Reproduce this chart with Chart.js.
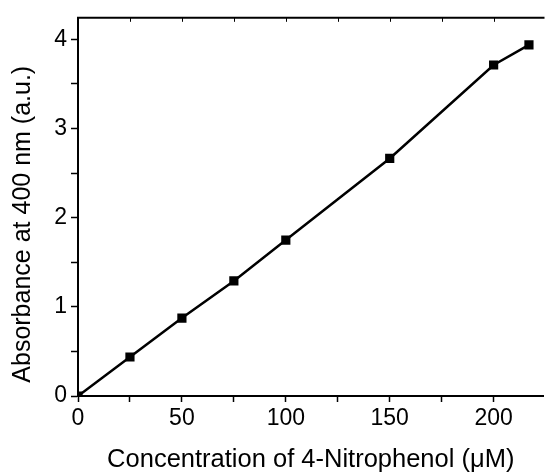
<!DOCTYPE html>
<html>
<head>
<meta charset="utf-8">
<script src="https://cdn.jsdelivr.net/npm/chart.js@4"></script>
<style>
    html, body { margin: 0; padding: 0; background: #fff; overflow: hidden; }
    #wrap { width: 550px; height: 473px; }
</style>
</head>
<body>
<div id="wrap"><canvas id="chart"></canvas></div>
<script>
const concentrations = [0, 25, 50, 75, 100, 150, 200, 217];
const absorbance = [0, 0.437, 0.874, 1.29, 1.748, 2.663, 3.711, 3.937];
const xTickValues = [0, 25, 50, 75, 100, 125, 150, 175, 200];
const xLabelTicks = [0, 50, 100, 150, 200];
const yTickValues = [0, 0.5, 1, 1.5, 2, 2.5, 3, 3.5, 4];
const yLabelTicks = [0, 1, 2, 3, 4];

const FONT = '"Liberation Sans", Arial, sans-serif';
Chart.defaults.font.family = FONT;
Chart.defaults.color = '#000';

// top frame line with small inward ticks
const topFramePlugin = {
    id: 'topFrame',
    afterDraw(chart) {
        const { ctx, chartArea: { left, right, top }, scales: { x } } = chart;
        ctx.save();
        ctx.strokeStyle = '#000';
        ctx.lineWidth = 2;
        ctx.beginPath();
        ctx.moveTo(left - 1, top);
        ctx.lineTo(right + 1, top);
        ctx.stroke();

        ctx.lineWidth = 1;
        x.ticks.forEach(t => {
            const px = Math.round(x.getPixelForValue(t.value)) + 0.5;
            ctx.beginPath();
            ctx.moveTo(px, top);
            ctx.lineTo(px, top + 4);
            ctx.stroke();
        });
        ctx.restore();
    }
};

const points = concentrations.map((c, i) => ({ x: c, y: absorbance[i] }));

new Chart(document.getElementById('chart').getContext('2d'), {
    type: 'line',
    data: {
        datasets: [{
            data: points,
            borderColor: '#000',
            borderWidth: 2.5,
            tension: 0,
            pointStyle: 'rect',
            pointRadius: 6.5,
            pointBorderWidth: 0,
            pointBackgroundColor: '#000',
            clip: 0
        }]
    },
    options: {
        responsive: true,
        maintainAspectRatio: false,
        animation: false,
        layout: { padding: { top: 14, right: 1, left: 0, bottom: 0 } },
        plugins: {
            legend: { display: false },
            tooltip: { enabled: false }
        },
        scales: {
            x: {
                type: 'linear',
                min: 0,
                max: 224,
                afterBuildTicks: s => { s.ticks = xTickValues.map(v => ({ value: v })); },
                afterFit: s => { s.height = 77; },
                ticks: {
                    autoSkip: false,
                    maxRotation: 0,
                    padding: 3,
                    font: { size: 23 },
                    callback: v => xLabelTicks.includes(v) ? String(v) : ''
                },
                grid: { drawOnChartArea: false, tickLength: 6, tickColor: '#000', tickWidth: 1.5 },
                border: { color: '#000', width: 2 },
                title: {
                    display: true,
                    text: 'Concentration of 4-Nitrophenol (μM)',
                    font: { size: 25.5, lineHeight: 1 },
                    padding: 0
                }
            },
            y: {
                min: 0,
                max: 4.24,
                afterBuildTicks: s => { s.ticks = yTickValues.map(v => ({ value: v })); },
                afterFit: s => { s.width = 78; },
                ticks: {
                    autoSkip: false,
                    padding: 4,
                    font: { size: 23 },
                    callback: v => yLabelTicks.includes(v) ? String(v) : ''
                },
                grid: { drawOnChartArea: false, tickLength: 7, tickColor: '#000', tickWidth: 1.5 },
                border: { color: '#000', width: 2 },
                title: {
                    display: true,
                    text: 'Absorbance at 400 nm (a.u.)     ',
                    font: { size: 25, lineHeight: 1 },
                    padding: { top: 11, bottom: 0 }
                }
            }
        }
    },
    plugins: [topFramePlugin]
});
</script>
</body>
</html>
